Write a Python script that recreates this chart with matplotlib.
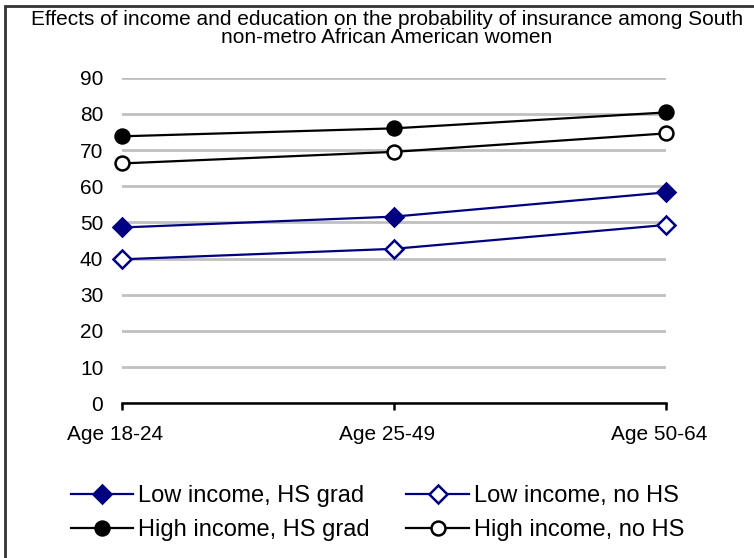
import matplotlib
matplotlib.use("Agg")
import matplotlib.pyplot as plt
from matplotlib.patches import Rectangle
from matplotlib.transforms import ScaledTranslation

plt.rcParams["font.family"] = ["Liberation Sans", "DejaVu Sans"]

age_groups = ["Age 18-24", "Age 25-49", "Age 50-64"]
low_hs_grad = [48.6, 51.6, 58.3]
low_no_hs = [39.8, 42.7, 49.3]
high_hs_grad = [73.8, 76.0, 80.4]
high_no_hs = [66.3, 69.5, 74.6]
y_ticks = [0, 10, 20, 30, 40, 50, 60, 70, 80, 90]

title = ("Effects of income and education on the probability of insurance among South\n"
         "non-metro African American women")

navy = "#000080"

fig = plt.figure(figsize=(7.54, 5.58), dpi=100)
ax = fig.add_axes([122 / 754, 1 - 403.3 / 558, 544 / 754, 325.6 / 558])

x = list(range(len(age_groups)))
series = [
    (low_hs_grad, "Low income, HS grad", navy, "D", navy),
    (low_no_hs, "Low income, no HS", navy, "D", "white"),
    (high_hs_grad, "High income, HS grad", "black", "o", "black"),
    (high_no_hs, "High income, no HS", "black", "o", "white"),
]
handles = []
for vals, label, color, marker, face in series:
    ms = 9 if marker == "D" else 10
    (h,) = ax.plot(x, vals, color=color, lw=1.6, marker=marker, ms=ms,
                   mfc=face, mec=color, mew=1.8, label=label, clip_on=False, zorder=3)
    handles.append(h)

ax.set_xlim(0, 2)
ax.set_ylim(0, 90)
ax.set_yticks(y_ticks)
ax.set_xticks(x)
ax.set_xticklabels(age_groups)
ax.yaxis.grid(True, color="#c0c0c0", lw=2)
ax.set_axisbelow(True)
for side in ["top", "right", "left"]:
    ax.spines[side].set_visible(False)
ax.spines["bottom"].set_linewidth(1.8)
ax.spines["bottom"].set_zorder(2)
ax.tick_params(axis="y", length=0, pad=13.5, labelsize=15)
ax.tick_params(axis="x", direction="out", length=5, width=1.8, pad=10.5, labelsize=15)
shift = ScaledTranslation(-7 / 100, 0, fig.dpi_scale_trans)
for lbl in ax.get_xticklabels():
    lbl.set_transform(lbl.get_transform() + shift)

fig.text(0.513, 0.982, title, ha="center", va="top", fontsize=15, linespacing=0.95)

order = [0, 2, 1, 3]
leg = fig.legend([handles[i] for i in order], [series[i][1] for i in order],
                 ncol=2, loc="upper left", bbox_to_anchor=(0.094, 0.131), frameon=False,
                 fontsize=17, handlelength=2.65, handletextpad=0.2, columnspacing=1.55,
                 labelspacing=0.52, borderpad=0, borderaxespad=0)

fig.patches.append(Rectangle((5 / 754, -0.1), 1.2, 1 - 6 / 558 + 0.1,
                             transform=fig.transFigure, fill=False,
                             edgecolor="#333333", lw=2))

fig.savefig("out.png", dpi=100)
